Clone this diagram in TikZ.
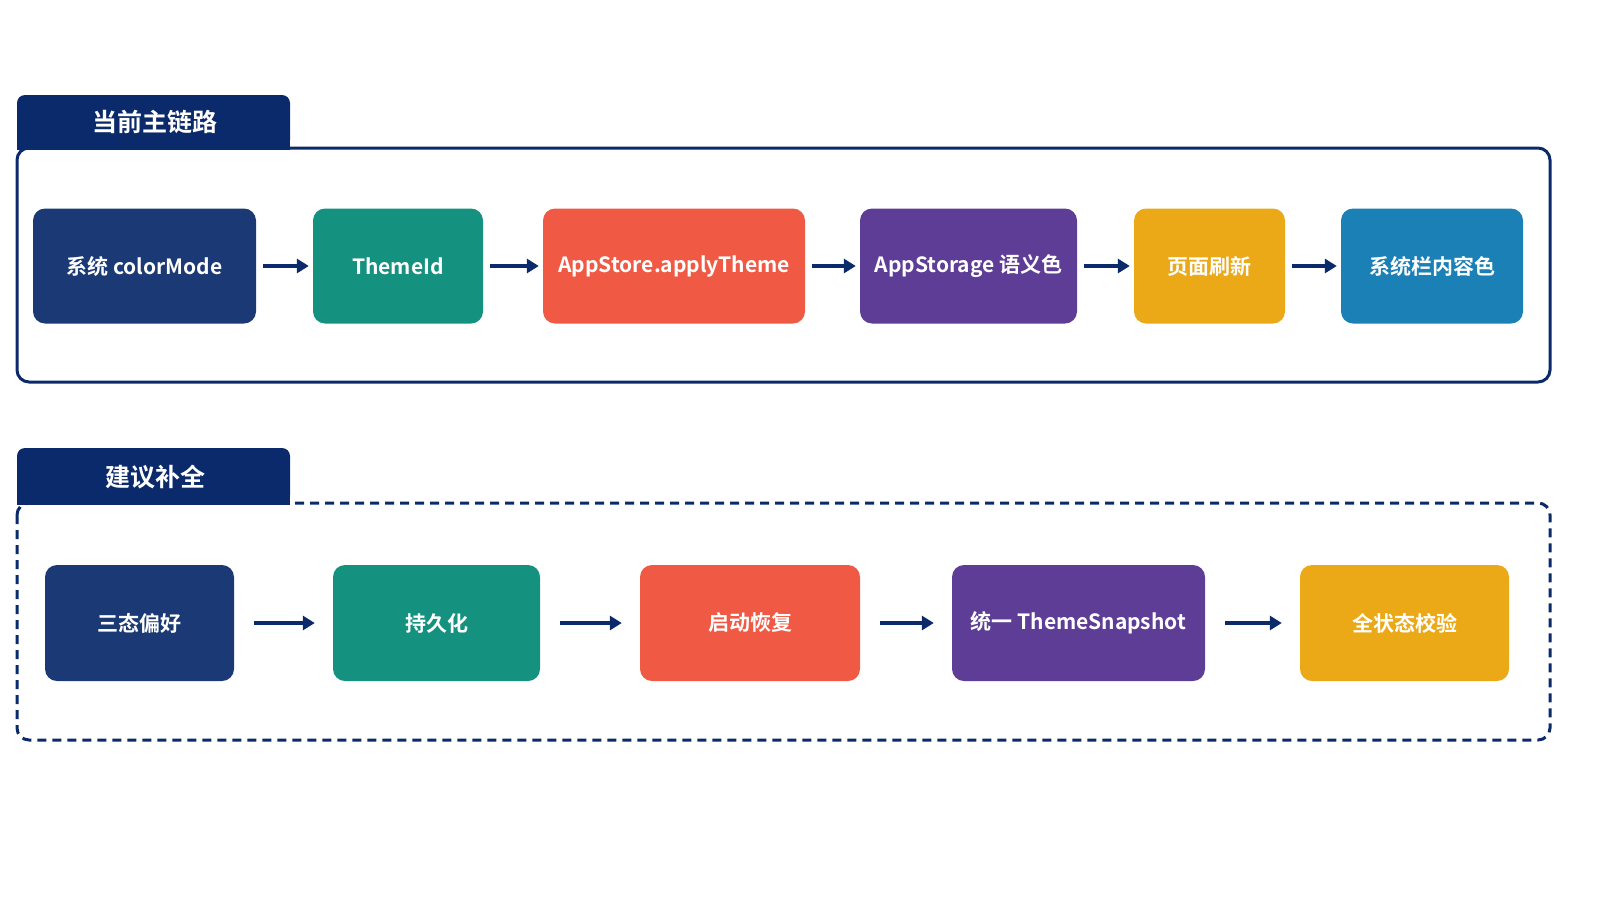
\documentclass[tikz,border=0pt]{standalone}
\usepackage{fontspec}
\setmainfont{Noto Sans CJK SC}[BoldFont={Noto Sans CJK SC Bold}]
\usetikzlibrary{arrows.meta}
\definecolor{navy}{HTML}{0B2A6B}
\definecolor{cnavy}{HTML}{1B3A75}
\definecolor{cteal}{HTML}{14917F}
\definecolor{cred}{HTML}{F05A45}
\definecolor{cpurple}{HTML}{5E3D96}
\definecolor{cyellow}{HTML}{EBA918}
\definecolor{cblue}{HTML}{1A80B5}
\begin{document}
\begin{tikzpicture}[x=1pt,y=-1pt,
  box/.style={rounded corners=12pt,text=white,font=\bfseries\fontsize{21}{24}\selectfont,align=center},
  arr/.style={-{Triangle[length=12pt,width=14pt]},line width=3.5pt,draw=navy},
  tab/.style={fill=navy},
  tabtext/.style={text=white,font=\bfseries\fontsize{25}{28}\selectfont}]
\useasboundingbox (0,0) rectangle (1600,900);
% top frame
\draw[navy,line width=3pt,rounded corners=12pt] (17,148) rectangle (1550,382);
\fill[tab,rounded corners=8pt] (17,148) -- (17,95) -- (290,95) -- (290,148) -- cycle;
\fill[navy] (17,130) rectangle (290,150);
\node[tabtext] (t1) at (155,122) {当前主链路};
% bottom frame
\draw[navy,line width=3pt,dash pattern=on 9pt off 6pt,rounded corners=12pt] (17,503) rectangle (1550,740);
\fill[tab,rounded corners=8pt] (17,503) -- (17,448) -- (290,448) -- (290,503) -- cycle;
\fill[navy] (17,485) rectangle (290,505);
\node[tabtext] (t2) at (155,477) {建议补全};
% top row
\node[box,fill=cnavy,minimum width=223pt,minimum height=115pt] (a1) at (144.5,266) {系统 colorMode};
\node[box,fill=cteal,minimum width=170pt,minimum height=115pt] (a2) at (398,266) {ThemeId};
\node[box,fill=cred,minimum width=262pt,minimum height=115pt] (a3) at (674,266) {AppStore.applyTheme};
\node[box,fill=cpurple,minimum width=217pt,minimum height=115pt] (a4) at (968.5,266) {AppStorage 语义色};
\node[box,fill=cyellow,minimum width=151pt,minimum height=115pt] (a5) at (1209.5,266) {页面刷新};
\node[box,fill=cblue,minimum width=182pt,minimum height=115pt] (a6) at (1432,266) {系统栏内容色};
\foreach \i/\j in {a1/a2,a2/a3,a3/a4,a4/a5,a5/a6}
  \draw[arr,shorten <=7pt,shorten >=4pt] (\i) -- (\j);
% bottom row
\node[box,fill=cnavy,minimum width=189pt,minimum height=116pt] (b1) at (139.5,623) {三态偏好};
\node[box,fill=cteal,minimum width=207pt,minimum height=116pt] (b2) at (436.5,623) {持久化};
\node[box,fill=cred,minimum width=220pt,minimum height=116pt] (b3) at (750,623) {启动恢复};
\node[box,fill=cpurple,minimum width=253pt,minimum height=116pt] (b4) at (1078.5,623) {统一 ThemeSnapshot};
\node[box,fill=cyellow,minimum width=209pt,minimum height=116pt] (b5) at (1404.5,623) {全状态校验};
\foreach \i/\j in {b1/b2,b2/b3,b3/b4,b4/b5}
  \draw[arr,shorten <=20pt,shorten >=18pt] (\i) -- (\j);
\end{tikzpicture}
\end{document}
